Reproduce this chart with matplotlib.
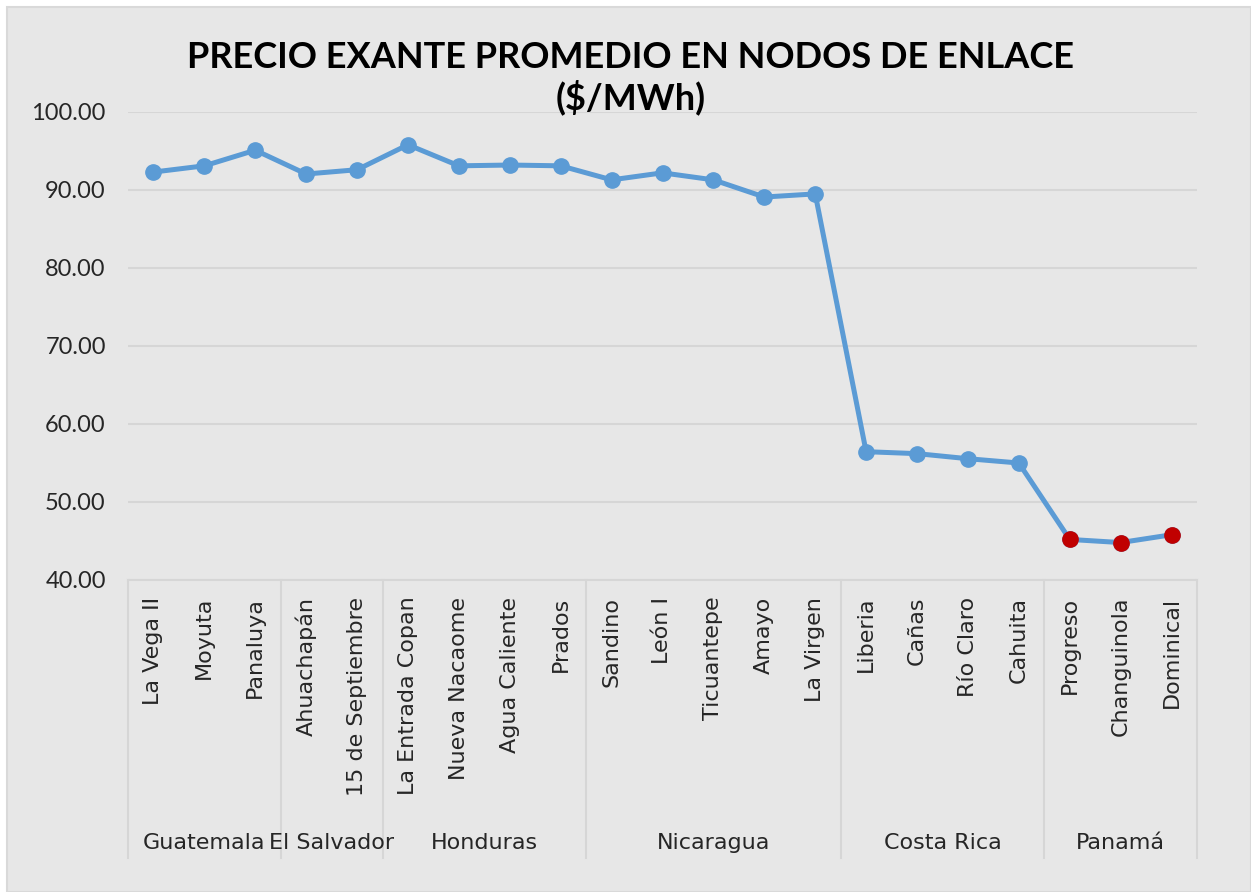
import matplotlib
matplotlib.use("Agg")
import matplotlib.pyplot as plt
import matplotlib.transforms as mtransforms
from matplotlib.patches import Rectangle

plt.rcParams['font.family'] = ['Lato', 'DejaVu Sans']

nodos = ["La Vega II", "Moyuta", "Panaluya",
         "Ahuachapán", "15 de Septiembre",
         "La Entrada Copan", "Nueva Nacaome", "Agua Caliente", "Prados",
         "Sandino", "León I", "Ticuantepe", "Amayo", "La Virgen",
         "Liberia", "Cañas", "Río Claro", "Cahuita",
         "Progreso", "Changuinola", "Dominical"]
precios = [92.3, 93.1, 95.1,
           92.05, 92.6,
           95.8, 93.1, 93.2, 93.1,
           91.3, 92.2, 91.3, 89.1, 89.5,
           56.45, 56.2, 55.55, 55.0,
           45.2, 44.8, 45.8]
paises = ["Guatemala", "El Salvador", "Honduras", "Nicaragua", "Costa Rica", "Panamá"]
n_por_pais = [3, 2, 4, 5, 4, 3]
rojos = ["Progreso", "Changuinola", "Dominical"]

W, H = 1251, 892
txt = "#262626"
fig = plt.figure(figsize=(W / 100, H / 100), dpi=100, facecolor="white")
# chart area background with thin border
fig.patches.append(Rectangle((7 / W, 0), 1 - 7 / W, 1 - 7 / H, transform=fig.transFigure,
                             facecolor="#E7E7E7", edgecolor="#D9D9D9", linewidth=1.5, zorder=-1))

ax = fig.add_axes([128 / W, 1 - 580 / H, (1197 - 128) / W, (580 - 112) / H])
ax.set_facecolor("#E7E7E7")

x = list(range(len(nodos)))
ax.plot(x, precios, color="#5B9BD5", linewidth=3.6, marker="o", markersize=11,
        markerfacecolor="#5B9BD5", markeredgecolor="#5B9BD5", zorder=3)
xr = [i for i, n in enumerate(nodos) if n in rojos]
ax.plot(xr, [precios[i] for i in xr], linestyle="none", marker="o", markersize=11,
        color="#C00000", zorder=4)

ax.set_xlim(-0.5, len(nodos) - 0.5)
ax.set_ylim(40, 100)
ax.set_yticks(range(40, 101, 10))
ax.set_yticklabels(["%.2f" % v for v in range(40, 101, 10)])
ax.grid(axis="y", color="#D6D6D6", linewidth=1.5)
ax.set_axisbelow(True)
for s in ["top", "right", "left"]:
    ax.spines[s].set_visible(False)
ax.spines["bottom"].set_color("#D6D6D6")
ax.spines["bottom"].set_linewidth(1.5)

ax.set_xticks(x)
ax.set_xticklabels(nodos, rotation=90, va="top", ha="center", family="DejaVu Sans")
ax.tick_params(axis="x", length=0, pad=12, labelsize=16, labelcolor=txt)
ax.tick_params(axis="y", length=0, pad=16, labelsize=17, labelcolor=txt)

# multi-level category axis: group boxes and country labels
trans = mtransforms.blended_transform_factory(ax.transData, ax.transAxes)
bottom = -(858 - 580) / (580 - 112)
label_y = -(843 - 580) / (580 - 112)
start = 0
bounds = [-0.5]
for pais, n in zip(paises, n_por_pais):
    centro = start + (n - 1) / 2
    ax.text(centro, label_y, pais, transform=trans, ha="center", va="center",
            fontsize=16, color=txt, family="DejaVu Sans")
    start += n
    bounds.append(start - 0.5)
for b in bounds:
    ax.plot([b, b], [0, bottom], transform=trans, color="#D6D6D6", linewidth=1.5,
            clip_on=False)

fig.text(0.504, 1 - 78 / H, "PRECIO EXANTE PROMEDIO EN NODOS DE ENLACE\n($/MWh)",
         ha="center", va="center", fontsize=26, fontweight="bold", color="black",
         linespacing=1.2)

fig.savefig("out.png", dpi=100, facecolor=fig.get_facecolor())
